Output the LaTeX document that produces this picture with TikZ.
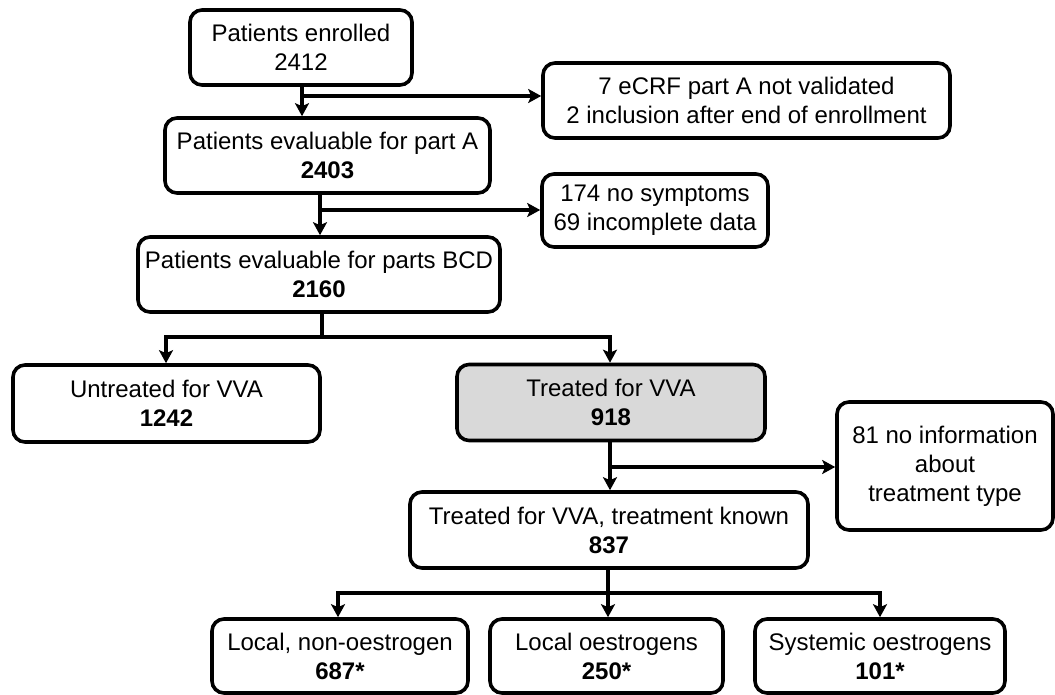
\documentclass[tikz,border=0pt]{standalone}
\usepackage{fontspec}
\setmainfont{Liberation Sans}
\usetikzlibrary{arrows.meta}
\begin{document}
\begin{tikzpicture}[x=1pt,y=-1pt,
  box/.style={draw=black, line width=3.6pt, rounded corners=12pt, fill=white,
    align=center, inner sep=0pt, font=\fontsize{24}{29}\selectfont},
  graybox/.style={box, fill=gray!30},
  conn/.style={line width=3.2pt},
  arr/.style={conn, -{Stealth[length=13pt,width=14pt,inset=3pt]}}
]
\useasboundingbox (0,0) rectangle (1055,695);
% boxes
\node[box, minimum width=222pt, minimum height=75pt] (enr) at (301,47.5) {Patients enrolled\\2412};
\node[box, minimum width=325pt, minimum height=75pt] (pA) at (327.5,155.5) {Patients evaluable for part A\\\textbf{2403}};
\node[box, minimum width=407pt, minimum height=75pt] (ex1) at (746.5,100.5) {7 eCRF part A not validated\\2 inclusion after end of enrollment};
\node[box, minimum width=226pt, minimum height=73pt] (ex2) at (655,210.5) {174 no symptoms\\69 incomplete data};
\node[box, minimum width=362pt, minimum height=75pt] (bcd) at (319,274.5) {Patients evaluable for parts BCD\\\textbf{2160}};
\node[box, minimum width=307pt, minimum height=77pt] (untr) at (166.5,403.5) {Untreated for VVA\\\textbf{1242}};
\node[graybox, minimum width=308pt, minimum height=76pt] (trt) at (611,402.5) {Treated for VVA\\\textbf{918}};
\node[box, minimum width=216pt, minimum height=128pt] (ex3) at (945,466) {81 no information\\about\\treatment type};
\node[box, minimum width=398pt, minimum height=76pt] (known) at (609,530) {Treated for VVA, treatment known\\\textbf{837}};
\node[box, minimum width=256pt, minimum height=74pt] (lno) at (340,656) {Local, non-oestrogen\\\textbf{687*}};
\node[box, minimum width=233pt, minimum height=74pt] (lo) at (606.5,656) {Local oestrogens\\\textbf{250*}};
\node[box, minimum width=250pt, minimum height=74pt] (so) at (880,656) {Systemic oestrogens\\\textbf{101*}};
% connector coordinates
\coordinate (b1) at (302,96);
\coordinate (b2) at (320,210);
\coordinate (b3) at (322,337);
\coordinate (b3l) at (166,337);
\coordinate (b3r) at (610,337);
\coordinate (b4) at (610,467);
\coordinate (b5) at (608,593);
\coordinate (b5l) at (338,593);
\coordinate (b5r) at (880,593);
% connectors
\draw[arr] (enr.south -| b1) -- (pA.north -| b1);
\draw[arr] (b1) -- (ex1.west |- b1);
\draw[arr] (pA.south -| b2) -- (bcd.north -| b2);
\draw[arr] (b2) -- (ex2.west |- b2);
\draw[conn] (bcd.south -| b3) -- (b3);
\draw[arr] (b3) -- (b3l) -- (untr.north -| b3l);
\draw[arr] (b3) -- (b3r) -- (trt.north -| b3r);
\draw[arr] (trt.south -| b4) -- (known.north -| b4);
\draw[arr] (b4) -- (ex3.west |- b4);
\draw[arr] (known.south -| b5) -- (lo.north -| b5);
\draw[arr] (b5) -- (b5l) -- (lno.north -| b5l);
\draw[arr] (b5) -- (b5r) -- (so.north -| b5r);
\end{tikzpicture}
\end{document}
